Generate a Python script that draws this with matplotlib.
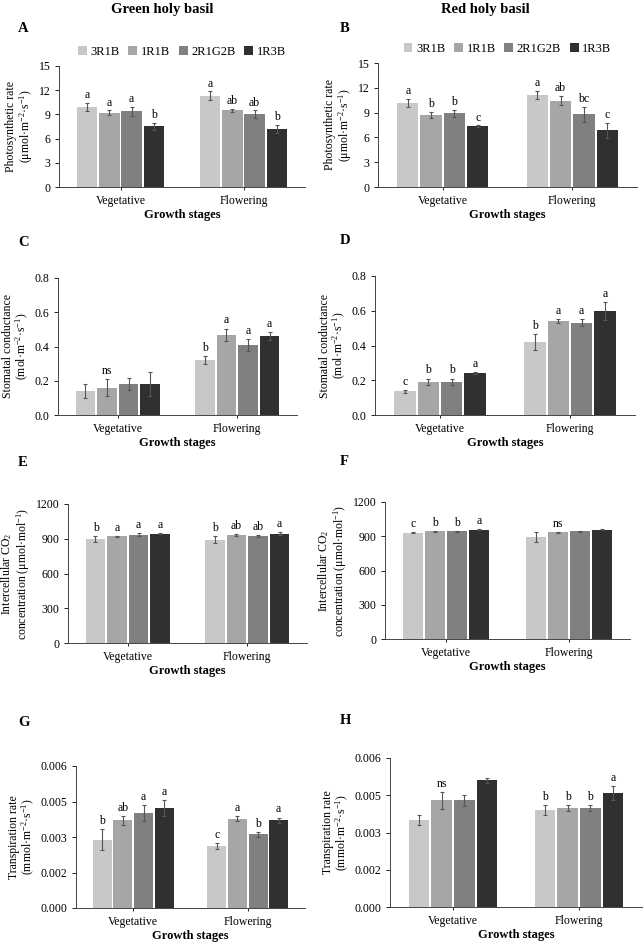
import numpy as np
import matplotlib
matplotlib.use("Agg")
import matplotlib.pyplot as plt

plt.rcParams['font.family'] = ['Liberation Serif', 'DejaVu Serif']
plt.rcParams['mathtext.fontset'] = 'custom'
plt.rcParams['mathtext.rm'] = 'Liberation Serif'
plt.rcParams['mathtext.it'] = 'Liberation Serif:italic'

stages = ['Vegetative', 'Flowering']
treatments = ['3R1B', '1R1B', '2R1G2B', '1R3B']
colors = ['#c8c8c8', '#a6a6a6', '#808080', '#303030']

# means per treatment: [vegetative, flowering]
A_mean = [[9.9, 11.3], [9.2, 9.5], [9.4, 9.0], [7.5, 7.15]]
A_err = [[0.5, 0.55], [0.3, 0.2], [0.55, 0.5], [0.4, 0.5]]
A_sig = [['a', 'a'], ['a', 'ab'], ['a', 'ab'], ['b', 'b']]

B_mean = [[10.2, 11.15], [8.7, 10.45], [8.9, 8.8], [7.35, 6.85]]
B_err = [[0.5, 0.5], [0.35, 0.55], [0.45, 0.9], [0.1, 0.9]]
B_sig = [['a', 'a'], ['b', 'ab'], ['b', 'bc'], ['c', 'c']]

C_mean = [[0.14, 0.32], [0.16, 0.47], [0.18, 0.41], [0.183, 0.46]]
C_err = [[0.04, 0.025], [0.05, 0.035], [0.035, 0.035], [0.07, 0.022]]
C_sig = [['', 'b'], ['ns', 'a'], ['', 'a'], ['', 'a']]

D_mean = [[0.136, 0.42], [0.19, 0.54], [0.19, 0.53], [0.24, 0.60]]
D_err = [[0.01, 0.045], [0.02, 0.01], [0.02, 0.02], [0.005, 0.052]]
D_sig = [['c', 'b'], ['b', 'a'], ['b', 'a'], ['a', 'a']]

E_mean = [[899, 891], [920, 931], [934, 922], [945, 945]]
E_err = [[28, 32], [7, 8], [12, 10], [5, 10]]
E_sig = [['b', 'b'], ['a', 'ab'], ['a', 'ab'], ['a', 'a']]

F_mean = [[930, 892], [942, 933], [942, 945], [956, 956]]
F_err = [[5, 45], [5, 4], [5, 4], [4, 4]]
F_sig = [['c', ''], ['b', 'ns'], ['b', ''], ['a', '']]

G_mean = [[0.00289, 0.00261], [0.0037, 0.00378], [0.00401, 0.00311], [0.00423, 0.00371]]
G_err = [[0.00046, 0.00013], [0.0002, 0.00011], [0.00034, 0.0001], [0.00034, 0.00011]]
G_sig = [['b', 'c'], ['ab', 'a'], ['a', 'b'], ['a', 'a']]

H_mean = [[0.0035, 0.0039], [0.0043, 0.00398], [0.0043, 0.00398], [0.0051, 0.0046]]
H_err = [[0.0002, 0.0002], [0.00034, 0.00012], [0.00023, 0.00012], [0.0001, 0.00028]]
H_sig = [['', 'b'], ['ns', 'b'], ['', 'b'], ['', 'a']]

ph_label = 'Photosynthetic rate\n(μmol·m$^{-2}$·s$^{-1}$)'
gs_label = 'Stomatal conductance\n(mol·m$^{-2}$·s$^{-1}$)'
ci_label = 'Intercellular CO$_2$\nconcentration (μmol·mol$^{-1}$)'
tr_label = 'Transpiration rate\n(mmol·m$^{-2}$·s$^{-1}$)'

W, H = 644, 944
fig = plt.figure(figsize=(W / 100, H / 100), dpi=100)


def box(x0, y0, x1, y1):
    return [x0 / W, 1 - y1 / H, (x1 - x0) / W, (y1 - y0) / H]


panels = [
    ('A', A_mean, A_err, A_sig, ph_label, (0, 15), [0, 3, 6, 9, 12, 15], None, box(59, 66, 305, 187), (18, 28)),
    ('B', B_mean, B_err, B_sig, ph_label, (0, 15), [0, 3, 6, 9, 12, 15], None, box(378, 63, 637, 187), (340, 28)),
    ('C', C_mean, C_err, C_sig, gs_label, (0, 0.8), [0, 0.2, 0.4, 0.6, 0.8], None, box(58, 278, 297, 415), (18, 243)),
    ('D', D_mean, D_err, D_sig, gs_label, (0, 0.8), [0, 0.2, 0.4, 0.6, 0.8], None, box(375, 276, 635, 415), (340, 240)),
    ('E', E_mean, E_err, E_sig, ci_label, (0, 1200), [0, 300, 600, 900, 1200], None, box(68, 504, 307, 643), (18, 463)),
    ('F', F_mean, F_err, F_sig, ci_label, (0, 1200), [0, 300, 600, 900, 1200], None, box(385, 502, 630, 639), (340, 462)),
    ('G', G_mean, G_err, G_sig, tr_label, (0, 0.006), [0, 0.0015, 0.003, 0.0045, 0.006],
     ['0.000', '0.002', '0.003', '0.005', '0.006'], box(76, 766, 305, 908), (18, 722)),
    ('H', H_mean, H_err, H_sig, tr_label, (0, 0.006), [0, 0.0015, 0.003, 0.0045, 0.006],
     ['0.000', '0.002', '0.003', '0.005', '0.006'], box(390, 758, 642, 907), (340, 720)),
]

x = np.arange(len(stages))
bw = 0.165
step = 0.18

for letter, mean, err, sig, ylabel, ylim, yticks, yticklabels, rect, lpos in panels:
    ax = fig.add_axes(rect)
    ymax = ylim[1]
    for i, t in enumerate(treatments):
        pos = x + (i - 1.5) * step
        ax.bar(pos, mean[i], bw, color=colors[i], label=t,
               yerr=err[i], error_kw=dict(ecolor='#555555', elinewidth=0.8, capsize=1.5, capthick=0.8))
        for j in range(len(stages)):
            if sig[i][j]:
                ax.text(pos[j], mean[i][j] + err[i][j] + ymax * 0.015, sig[i][j],
                        ha='center', va='bottom', fontsize=8.5)
    ax.set_xlim(-0.5, 1.5)
    ax.set_ylim(*ylim)
    ax.set_yticks(yticks)
    if yticklabels:
        ax.set_yticklabels(yticklabels)
    ax.set_xticks(x)
    ax.set_xticklabels(stages)
    ax.tick_params(axis='x', length=2, width=0.6, pad=4, labelsize=8.5)
    ax.tick_params(axis='y', length=3, width=0.6, pad=3, labelsize=8.5)
    for s in ['top', 'right']:
        ax.spines[s].set_visible(False)
    for s in ['left', 'bottom']:
        ax.spines[s].set_linewidth(0.7)
        ax.spines[s].set_color('#444444')
    ax.set_ylabel(ylabel, fontsize=8.5, labelpad=3, linespacing=1.0)
    ax.set_xlabel('Growth stages', fontsize=9, fontweight='bold', labelpad=1)
    fig.text(lpos[0] / W, 1 - lpos[1] / H, letter, fontsize=10.5, fontweight='bold', va='center')
    if letter in ('A', 'B'):
        ax.legend(loc='center', bbox_to_anchor=(0.5, 1.115), ncol=4, frameon=False,
                  fontsize=9, handlelength=0.7, handleheight=0.7, handletextpad=0.3,
                  columnspacing=0.7, borderaxespad=0)

fig.text(162 / W, 1 - 9 / H, 'Green holy basil', fontsize=10.5, fontweight='bold', ha='center', va='center')
fig.text(485 / W, 1 - 9 / H, 'Red holy basil', fontsize=10.5, fontweight='bold', ha='center', va='center')

fig.savefig('out.png', dpi=100, facecolor='white')
